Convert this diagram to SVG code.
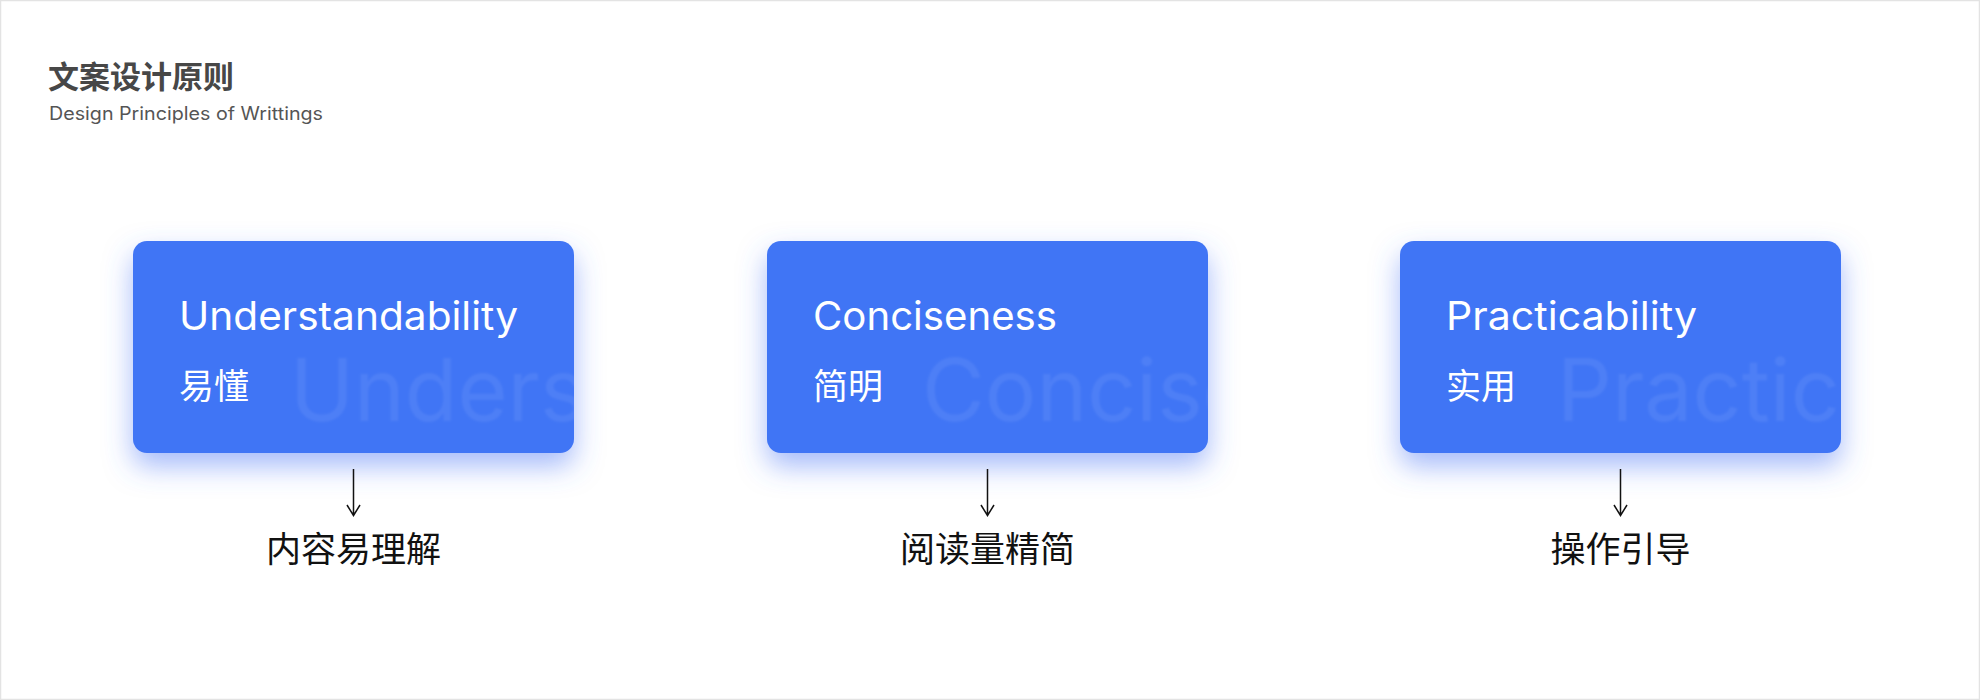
<svg xmlns="http://www.w3.org/2000/svg" width="1980" height="700" viewBox="0 0 1980 700">
<style>
.title{font-family:"Noto Sans CJK SC","Noto Sans",sans-serif;font-size:31px;font-weight:700;fill:#474747}
.sub{font-family:Inter,"Liberation Sans",sans-serif;font-size:18px;fill:#555}
.card{fill:#4075F5}
.en{font-family:Inter,"Liberation Sans",sans-serif;font-size:39px;fill:#fff}
.zh{font-family:"Noto Sans CJK SC",sans-serif;font-size:35px;fill:#fff}
.ghost{font-family:Inter,"Liberation Sans",sans-serif;font-size:86px;fill:#fff;fill-opacity:0.07}
.label{font-family:"Noto Sans CJK SC",sans-serif;font-size:35px;fill:#111}
.arr{stroke:#111;stroke-width:1.5;fill:none}
</style>
<defs>
<filter id="shadow" x="-20%" y="-20%" width="140%" height="160%">
<feDropShadow dx="0" dy="13" stdDeviation="14" flood-color="#4A74F5" flood-opacity="0.5"/>
</filter>
<filter id="soft"><feGaussianBlur stdDeviation="1.3"/></filter>
<clipPath id="c1"><rect x="133" y="241" width="441" height="212" rx="14"/></clipPath>
<clipPath id="c2"><rect x="767" y="241" width="441" height="212" rx="14"/></clipPath>
<clipPath id="c3"><rect x="1400" y="241" width="441" height="212" rx="14"/></clipPath>
</defs>
<rect x="0.5" y="0.5" width="1979" height="699" fill="#fff" stroke="#e3e3e3" stroke-width="1.5"/>
<g id="header">
<text class="title" x="48" y="88">文案设计原则</text>
<text class="sub" x="49" y="120" textLength="274" lengthAdjust="spacingAndGlyphs">Design Principles of Writtings</text>
</g>
<g id="node1">
<rect class="card" x="133" y="241" width="441" height="212" rx="14" filter="url(#shadow)"/>
<g clip-path="url(#c1)"><text class="ghost" x="290" y="421" filter="url(#soft)">Understandability</text></g>
<text class="en" x="179" y="330" textLength="339" lengthAdjust="spacingAndGlyphs">Understandability</text>
<text class="zh" x="179" y="399">易懂</text>
</g>
<g id="node2">
<rect class="card" x="767" y="241" width="441" height="212" rx="14" filter="url(#shadow)"/>
<g clip-path="url(#c2)"><text class="ghost" x="922" y="421" filter="url(#soft)">Conciseness</text></g>
<text class="en" x="813" y="330" textLength="244" lengthAdjust="spacingAndGlyphs">Conciseness</text>
<text class="zh" x="813" y="399">简明</text>
</g>
<g id="node3">
<rect class="card" x="1400" y="241" width="441" height="212" rx="14" filter="url(#shadow)"/>
<g clip-path="url(#c3)"><text class="ghost" x="1557" y="421" filter="url(#soft)">Practicability</text></g>
<text class="en" x="1446" y="330" textLength="251" lengthAdjust="spacingAndGlyphs">Practicability</text>
<text class="zh" x="1446" y="399">实用</text>
</g>
<g id="label1"><text class="label" x="353.5" y="562" text-anchor="middle">内容易理解</text></g>
<g id="label2"><text class="label" x="987.5" y="562" text-anchor="middle">阅读量精简</text></g>
<g id="label3"><text class="label" x="1620.5" y="562" text-anchor="middle">操作引导</text></g>
<g id="connectors">
<path class="arr" d="M353.5 469V515M347 505L353.5 515.5L360 505"/>
<path class="arr" d="M987.5 469V515M981 505L987.5 515.5L994 505"/>
<path class="arr" d="M1620.5 469V515M1614 505L1620.5 515.5L1627 505"/>
</g>
</svg>
